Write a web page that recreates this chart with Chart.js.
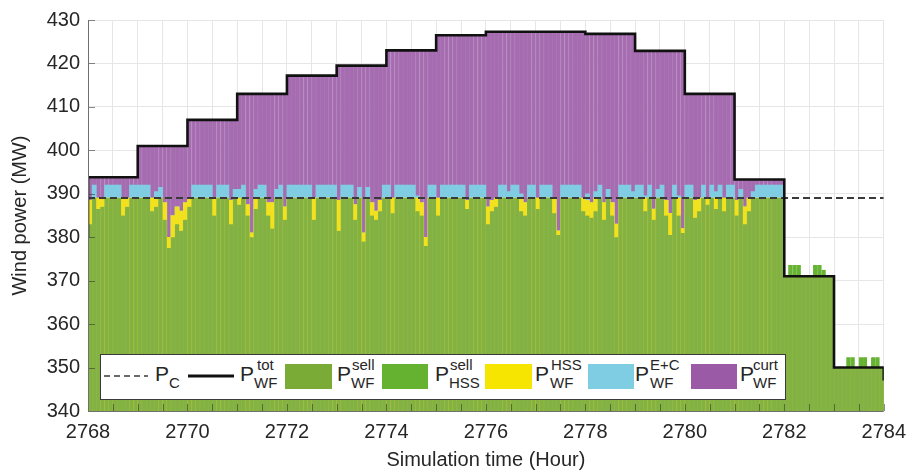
<!DOCTYPE html>
<html>
<head>
<meta charset="utf-8">
<title>Wind farm power split</title>
<script src="https://cdn.jsdelivr.net/npm/chart.js@4.4.1/dist/chart.umd.min.js"></script>
<style>
  html, body { margin: 0; padding: 0; background: #fff; }
  #wrap { position: relative; width: 915px; height: 474px; overflow: hidden;
          font-family: "Liberation Sans", Arial, Helvetica, sans-serif; color: #262626; }
  #chart { position: absolute; left: 0; top: 0; }
  #legendBox { position: absolute; left: 100px; top: 354px; width: 684px; height: 44px;
               background: #fff; border: 1px solid #3a3a3a; }
  .lg { position: absolute; line-height: 1; white-space: nowrap; }
  .big { font-size: 21px; }
  .small { font-size: 15px; }
  .sw { position: absolute; }
</style>
</head>
<body>
<div id="wrap">
  <canvas id="chart" width="915" height="474"></canvas>
  <div id="legendBox"></div>

  <svg class="sw" style="left:104px;top:372px" width="44" height="8">
    <line x1="0" y1="4" x2="44" y2="4" stroke="#3a3a3a" stroke-width="1.6" stroke-dasharray="6,4"/>
  </svg>
  <span class="lg big" style="left:155px;top:363px">P</span>
  <span class="lg small" style="left:169px;top:375px">C</span>

  <svg class="sw" style="left:188px;top:372px" width="46" height="8">
    <line x1="0" y1="4" x2="46" y2="4" stroke="#111" stroke-width="3"/>
  </svg>
  <span class="lg big" style="left:240px;top:363px">P</span>
  <span class="lg small" style="left:254px;top:375px">WF</span>
  <span class="lg small" style="left:257px;top:357px">tot</span>

  <div class="sw" style="left:285px;top:364px;width:47px;height:25px;background:#7bab37"></div>
  <span class="lg big" style="left:337px;top:363px">P</span>
  <span class="lg small" style="left:351px;top:375px">WF</span>
  <span class="lg small" style="left:352px;top:357px">sell</span>

  <div class="sw" style="left:382px;top:364px;width:46px;height:25px;background:#64b22f"></div>
  <span class="lg big" style="left:435px;top:363px">P</span>
  <span class="lg small" style="left:449px;top:375px">HSS</span>
  <span class="lg small" style="left:450px;top:357px">sell</span>

  <div class="sw" style="left:485px;top:364px;width:47px;height:25px;background:#f6e500"></div>
  <span class="lg big" style="left:535px;top:363px">P</span>
  <span class="lg small" style="left:550px;top:375px">WF</span>
  <span class="lg small" style="left:551px;top:357px">HSS</span>

  <div class="sw" style="left:588px;top:364px;width:46px;height:25px;background:#7fcde3"></div>
  <span class="lg big" style="left:635px;top:363px">P</span>
  <span class="lg small" style="left:650px;top:375px">WF</span>
  <span class="lg small" style="left:650px;top:357px">E+C</span>

  <div class="sw" style="left:691px;top:364px;width:46px;height:25px;background:#9a5aa6"></div>
  <span class="lg big" style="left:740px;top:363px">P</span>
  <span class="lg small" style="left:753px;top:375px">WF</span>
  <span class="lg small" style="left:753px;top:357px">curt</span>
</div>

<script>
// Time axis: one bar every 5 minutes, 12 per hour, starting at hour 2768
const startHour = 2768;
const stepsPerHour = 12;
const xTicks = [2768, 2770, 2772, 2774, 2776, 2778, 2780, 2782, 2784];
const yTicks = [340, 350, 360, 370, 380, 390, 400, 410, 420, 430];

// Contracted power P_C (MW)
const pcLevel = 389;

// Total available wind power per hour (MW), hours 2768 .. 2783
const stepHours   = [2768, 2769, 2770, 2771, 2772, 2773, 2774, 2775, 2776, 2777, 2778, 2779, 2780, 2781, 2782, 2783];
const totalPower  = [393.8, 401, 407, 413, 417.2, 419.5, 423, 426.5, 427.3, 427.3, 426.8, 422.9, 413, 393.3, 371, 350];
const powerBefore = 380;   // level just before 2768
const powerAfter  = 347;   // level reached at 2784

// Upper edge of the power sold directly by the wind farm (MW), one row per hour
const sellLevel = [
  383, 389, 386.5, 387, 389, 389, 389, 389, 385, 387, 389, 389,
  389, 389, 389, 386, 387, 389, 384, 377.5, 380, 383, 381.5, 384,
  387, 389, 389, 389, 389, 389, 385, 389, 389, 389, 383, 389,
  387.5, 389, 385, 380, 386.5, 389, 389, 385, 382, 389, 389, 384,
  389, 389, 389, 389, 389, 389, 384, 389, 389, 389, 389, 389,
  381.5, 389, 389, 389, 384, 389, 379, 389, 385, 384, 386, 389,
  389, 385.5, 389, 389, 389, 389, 389, 386, 385, 378, 389, 389,
  385, 389, 389, 389, 389, 389, 389, 386.5, 389, 389, 389, 389,
  383, 386, 387, 389, 389, 389, 389, 389, 386, 385, 389, 389,
  386.5, 389, 389, 389, 385.5, 380.5, 389, 389, 389, 389, 389, 386,
  385, 384.5, 386, 389, 384, 389, 385, 380, 389, 389, 389, 389,
  389, 389, 386, 389, 384, 389, 389, 385, 380.5, 389, 385, 381,
  389, 389, 384.5, 386, 389, 387.5, 389, 386.5, 389, 386, 389, 389,
  385, 389, 383, 386, 389, 389, 389, 389, 389, 389, 389, 389,
  371, 371, 371, 371, 371, 371, 371, 371, 371, 371, 371, 371,
  350, 350, 350, 350, 350, 350, 350, 350, 350, 350, 350, 350
];

// Upper edge after adding power sent to the hydrogen storage system (MW)
const hssLevel = [
  388.5, 389, 389, 389, 389, 389, 389, 389, 389, 389, 389, 389,
  389, 389, 389, 389, 389, 389, 388, 380, 385, 387, 386, 388,
  389, 389, 389, 389, 389, 389, 389, 389, 389, 389, 388.5, 389,
  389, 389, 387.5, 381, 389, 389, 389, 388, 388, 389, 389, 387,
  389, 389, 389, 389, 389, 389, 389, 389, 389, 389, 389, 389,
  388.5, 389, 389, 389, 387.5, 389, 381, 389, 388, 386, 388.5, 389,
  389, 389, 389, 389, 389, 389, 389, 389, 388, 380, 389, 389,
  389, 389, 389, 389, 389, 389, 389, 388.5, 389, 389, 389, 389,
  387, 388.5, 389, 389, 389, 389, 389, 389, 389, 388, 389, 389,
  389, 389, 389, 389, 389, 381.5, 389, 389, 389, 389, 389, 389,
  388.5, 388, 389, 389, 388, 389, 388, 383, 389, 389, 389, 389,
  389, 389, 389, 389, 386.5, 389, 389, 388.5, 385.5, 389, 389, 382,
  389, 389, 388.5, 389, 389, 389, 389, 389, 389, 389, 389, 389,
  388.5, 389, 387, 389, 389, 389, 389, 389, 389, 389, 389, 389,
  371, 371, 371, 371, 371, 371, 371, 371, 371, 371, 371, 371,
  350, 350, 350, 350, 350, 350, 350, 350, 350, 350, 350, 350
];

// Upper edge after adding the electrolyser + compressor consumption (MW)
const ecLevel = [
  388.5, 392, 389, 389, 392, 392, 392, 392, 389, 389, 392, 392,
  392, 392, 392, 389, 390.5, 391.5, 388, 380, 385, 387, 386, 388,
  389, 392, 392, 392, 392, 392, 389, 392, 392, 392, 388.5, 391,
  391, 392, 387.5, 381, 391, 392, 392, 388, 388, 391, 392, 387,
  392, 392, 392, 392, 392, 392, 389, 392, 392, 392, 392, 392,
  388.5, 392, 392, 392, 387.5, 391.5, 381, 391.5, 388, 386, 388.5, 392,
  392, 389, 392, 392, 392, 392, 392, 389.5, 388, 380, 392, 392,
  389, 392, 392, 392, 392, 392, 392, 388.5, 392, 392, 392, 392,
  387, 388.5, 389, 392, 392, 390.5, 392, 392, 390, 388, 392, 392,
  389, 392, 392, 392, 389, 381.5, 392, 392, 392, 392, 392, 389,
  390, 388, 390.5, 392, 388, 391, 388, 383, 392, 392, 392, 390.5,
  392, 392, 389.5, 392, 386.5, 391, 392, 388.5, 385.5, 392, 389.5, 382,
  392, 392, 388.5, 389, 392, 389, 392, 390.5, 392, 389, 392, 392,
  388.5, 391, 387, 389, 390.5, 392, 392, 392, 392, 392, 392, 392,
  371, 371, 371, 371, 371, 371, 371, 371, 371, 371, 371, 371,
  350, 350, 350, 350, 350, 350, 350, 350, 350, 350, 350, 350
];

// Upper edge including power sold from the storage system, hours 2782 .. 2783 (MW)
const hssSellStart = 2782;
const hssSellLevel = [
  371, 373.6, 373.6, 373.6, 371, 371, 371, 373.6, 373.6, 372.5, 371, 371,
  350, 350, 350, 352.4, 352.4, 350, 352.4, 352.4, 350, 352.4, 352.4, 350
];

// Bars are centred inside their 5-minute interval
const toBars = (levels, firstHour) =>
  levels.map((v, i) => ({ x: firstHour + (i + 0.5) / stepsPerHour, y: v }));

// Curtailed power fills each bar up to the hourly available power
const curtLevel = sellLevel.map((_, i) => totalPower[Math.floor(i / stepsPerHour)]);

// Staircase of the available power
const totalSteps = [{ x: stepHours[0], y: powerBefore }]
  .concat(stepHours.map((h, i) => ({ x: h, y: totalPower[i] })))
  .concat([{ x: xTicks[xTicks.length - 1], y: powerAfter }]);

const axisFont = { family: '"Liberation Sans", Arial, Helvetica, sans-serif', size: 20 };

// Thin lighter seam on the left of every bar gives the striped fill
const seam = { left: 1, right: 0, top: 0, bottom: 0 };

// Inward tick marks and axis lines drawn over the bars
const innerTicks = {
  id: 'innerTicks',
  afterDatasetsDraw(chart) {
    const { ctx, chartArea: a, scales: { x, y } } = chart;
    ctx.save();
    ctx.strokeStyle = 'rgba(45,45,45,0.55)';
    ctx.lineWidth = 1;
    ctx.beginPath();
    x.ticks.forEach(t => {
      const px = Math.round(x.getPixelForValue(t.value)) + 0.5;
      ctx.moveTo(px, a.bottom);
      ctx.lineTo(px, a.bottom - 7);
    });
    y.ticks.forEach(t => {
      const py = Math.round(y.getPixelForValue(t.value)) + 0.5;
      ctx.moveTo(a.left, py);
      ctx.lineTo(a.left + 7, py);
    });
    ctx.stroke();
    ctx.strokeStyle = '#707070';
    ctx.beginPath();
    ctx.moveTo(a.left + 0.5, a.top);
    ctx.lineTo(a.left + 0.5, a.bottom + 0.5);
    ctx.lineTo(a.right, a.bottom + 0.5);
    ctx.stroke();
    ctx.restore();
  }
};

new Chart(document.getElementById('chart'), {
  type: 'bar',
  data: {
    datasets: [
      { type: 'line', label: 'P_WF^tot', data: totalSteps, stepped: 'before',
        borderColor: '#111111', borderWidth: 2.6, pointRadius: 0, fill: false, order: 0 },
      { type: 'line', label: 'P_C', data: [{ x: xTicks[0], y: pcLevel }, { x: xTicks[xTicks.length - 1], y: pcLevel }],
        borderColor: '#3a3a3a', borderWidth: 2, borderDash: [7, 4], pointRadius: 0, fill: false, order: 1 },
      { label: 'P_WF^sell', data: toBars(sellLevel, startHour), backgroundColor: '#83b142',
        borderColor: '#89b54b', borderWidth: seam, order: 2 },
      { label: 'P_HSS^sell', data: toBars(hssSellLevel, hssSellStart), backgroundColor: '#66b332',
        borderColor: '#6eb83c', borderWidth: seam, order: 3 },
      { label: 'P_WF^HSS', data: toBars(hssLevel, startHour), backgroundColor: '#f1e11e', order: 4 },
      { label: 'P_WF^E+C', data: toBars(ecLevel, startHour), backgroundColor: '#80cde3', order: 5 },
      { label: 'P_WF^curt', data: toBars(curtLevel, startHour), backgroundColor: '#a56cb0',
        borderColor: '#aa74b5', borderWidth: seam, order: 6 }
    ]
  },
  options: {
    responsive: false,
    animation: false,
    devicePixelRatio: 1,
    layout: { padding: { top: 16, right: 22, bottom: 0, left: 0 } },
    datasets: { bar: { grouped: false, barPercentage: 1, categoryPercentage: 1, borderWidth: 0 } },
    plugins: { legend: { display: false }, tooltip: { enabled: false } },
    scales: {
      x: {
        type: 'linear', min: xTicks[0], max: xTicks[xTicks.length - 1], offset: false,
        grid: { offset: false, color: '#e6e6e6', drawTicks: false },
        border: { display: false },
        ticks: {
          stepSize: 0.5, autoSkip: false, maxRotation: 0, padding: 9,
          font: axisFont, color: '#262626',
          callback: v => (xTicks.includes(v) ? String(v) : '')
        },
        title: { display: true, text: 'Simulation time (Hour)', font: axisFont, color: '#262626',
                 padding: { top: 0, bottom: 2 } },
        afterFit: s => { s.height = 63; }
      },
      y: {
        min: yTicks[0], max: yTicks[yTicks.length - 1],
        grid: { color: '#e6e6e6', drawTicks: false },
        border: { display: false },
        ticks: { stepSize: 10, padding: 8, font: axisFont, color: '#262626' },
        title: { display: true, text: 'Wind power (MW)', font: axisFont, color: '#262626',
                 padding: { top: 8, bottom: 0 } },
        afterFit: s => { s.width = 88; }
      }
    }
  },
  plugins: [innerTicks]
});
</script>
</body>
</html>
